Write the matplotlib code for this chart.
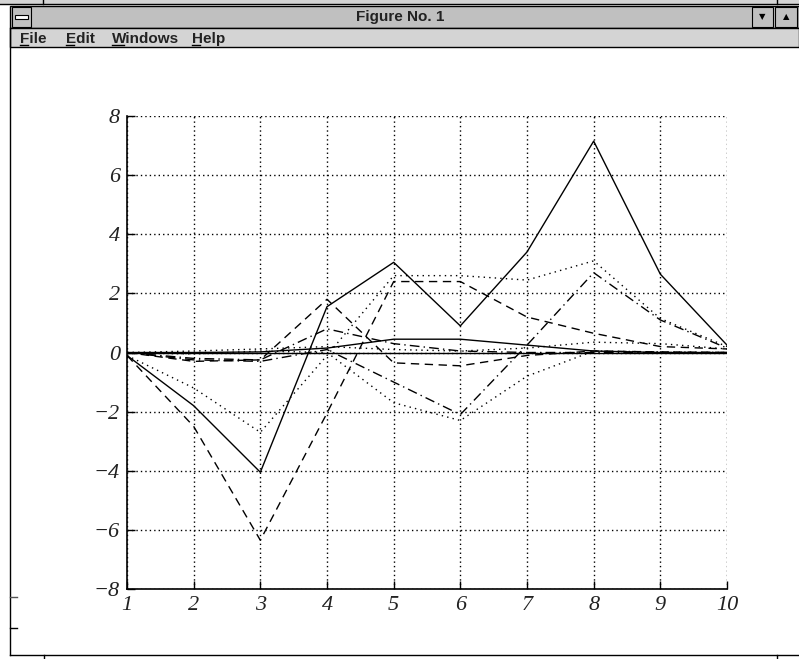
import matplotlib
matplotlib.use("Agg")
import matplotlib.pyplot as plt
from matplotlib.patches import Rectangle
from matplotlib.lines import Line2D

# ---- data ----
x = [1, 2, 3, 4, 5, 6, 7, 8, 9, 10]
s_solid_big = [-0.1, -1.8, -4.05, 1.55, 3.05, 0.9, 3.4, 7.15, 2.65, 0.25]
s_dash_deep = [-0.1, -2.5, -6.35, -2.05, 2.4, 2.4, 1.2, 0.65, 0.2, 0.12]
s_dot_low = [-0.1, -1.2, -2.7, -0.1, 2.6, 2.6, 2.45, 3.1, 1.15, 0.2]
s_dash_peak = [0.0, -0.3, -0.25, 1.8, -0.35, -0.45, -0.1, 0.05, 0.02, 0.0]
s_dashdot_a = [0.0, -0.2, -0.25, 0.8, 0.3, 0.05, 0.0, 0.0, 0.0, 0.0]
s_dashdot_b = [0.0, -0.25, -0.3, 0.1, -1.0, -2.1, 0.25, 2.7, 1.1, 0.15]
s_dot_mid = [0.0, -0.05, 0.05, 0.0, -1.7, -2.3, -0.8, 0.05, 0.02, 0.0]
s_solid_bump = [0.0, 0.0, 0.02, 0.15, 0.45, 0.45, 0.25, 0.05, 0.0, 0.0]
s_solid_flat = [0.0, 0.0, 0.0, 0.0, 0.0, 0.0, 0.0, 0.0, 0.0, 0.0]
s_dot_high = [0.0, 0.05, 0.12, 0.2, 0.1, 0.05, 0.15, 0.35, 0.3, 0.12]

series = [s_solid_big, s_dash_deep, s_dot_low, s_dashdot_a, s_solid_bump,
          s_dash_peak, s_dot_mid, s_dashdot_b, s_solid_flat, s_dot_high]
styles = ['-', (0, (6, 4)), (0, (1, 3)), (0, (7, 3, 1, 3)), '-',
          (0, (6, 4)), (0, (1, 3)), (0, (7, 3, 1, 3)), '-', (0, (1, 3))]

xticks = [1, 2, 3, 4, 5, 6, 7, 8, 9, 10]
yticks = [-8, -6, -4, -2, 0, 2, 4, 6, 8]

W, H = 799, 659
fig = plt.figure(figsize=(W / 100, H / 100), dpi=100, facecolor='white')


def rect(x0, y0, x1, y1, fc='none', ec='none', lw=1.0):
    fig.patches.append(Rectangle((x0 / W, 1 - y1 / H), (x1 - x0) / W, (y1 - y0) / H,
                                 transform=fig.transFigure, facecolor=fc,
                                 edgecolor=ec, linewidth=lw, zorder=1))


def hline(y, x0, x1, c='black', lw=1.0):
    fig.lines.append(Line2D([x0 / W, x1 / W], [1 - y / H, 1 - y / H],
                            transform=fig.transFigure, color=c, linewidth=lw))


def vline(xp, y0, y1, c='black', lw=1.0):
    fig.lines.append(Line2D([xp / W, xp / W], [1 - y0 / H, 1 - y1 / H],
                            transform=fig.transFigure, color=c, linewidth=lw))


def ftext(xp, yp, s, **kw):
    fig.text(xp / W, 1 - yp / H, s, transform=fig.transFigure, **kw)


# ---- window chrome ----
rect(0, 0, 799, 4, fc='#d4d4d4')
hline(4, 0, 799, lw=1.0)
vline(43, 0, 4)
vline(777, 0, 4)
rect(10, 6, 799, 28, fc='#c0c0c0', ec='black', lw=1.0)
rect(12, 7, 31, 27, fc='#c0c0c0', ec='black', lw=0.8)
rect(15, 15, 28, 19, fc='white', ec='black', lw=0.8)
rect(752, 7, 773, 27, fc='#c0c0c0', ec='black', lw=0.8)
rect(775, 7, 797, 27, fc='#c0c0c0', ec='black', lw=0.8)
ftext(762.5, 17, '\u25BC', ha='center', va='center', fontsize=6, family='DejaVu Sans')
ftext(786, 17, '\u25B2', ha='center', va='center', fontsize=6, family='DejaVu Sans')
ftext(400, 17, 'Figure No. 1', ha='center', va='center', fontsize=11,
      fontweight='bold', family='Liberation Sans', color='#222222')
rect(10, 28, 799, 47, fc='#d4d4d4', ec='black', lw=1.0)
menu = [('File', 20), ('Edit', 66), ('Windows', 112), ('Help', 192)]
for label, mx in menu:
    ftext(mx, 39, label, ha='left', va='center', fontsize=11, fontweight='bold',
          family='Liberation Sans', color='#222222')
    hline(45, mx, mx + 8 if label != 'Windows' else mx + 12, lw=1.0)
vline(10, 28, 655)
hline(597, 10, 17, c='#555555')
hline(628, 10, 17)
hline(655, 10, 799)
vline(44, 655, 659)
vline(777, 655, 659)

# ---- axes ----
L, R, T, B = 127, 727, 116, 589
ax = fig.add_axes([L / W, 1 - B / H, (R - L) / W, (B - T) / H])
ax.set_facecolor('white')
for ys, ls in zip(series, styles):
    ax.plot(x, ys, color='black', linestyle=ls, linewidth=1.0, zorder=3)

ax.set_xlim(1, 10)
ax.set_ylim(-8, 8)
ax.set_xticks(xticks)
ax.set_yticks(yticks)
ax.set_xticklabels([str(v) for v in xticks])
ax.set_yticklabels([str(v).replace('-', '\u2212') for v in yticks])
ax.grid(True, color='black', linestyle=(0, (1, 2.2)), linewidth=1.0, zorder=1)
ax.spines['top'].set_visible(False)
ax.spines['right'].set_visible(False)
ax.spines['left'].set_linewidth(1.2)
ax.spines['bottom'].set_linewidth(1.2)
ax.tick_params(direction='in', length=6, width=1.0, pad=5)
for lab in ax.get_xticklabels() + ax.get_yticklabels():
    lab.set_fontfamily('Liberation Serif')
    lab.set_fontstyle('italic')
    lab.set_fontsize(16)
    lab.set_color('#222222')

fig.savefig('out.png', dpi=100, facecolor='white')
